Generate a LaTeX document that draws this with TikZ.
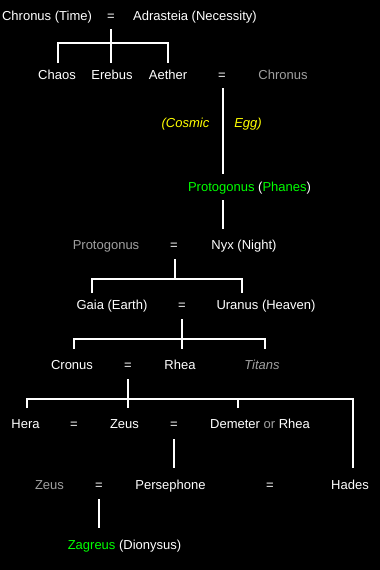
\documentclass[tikz,border=0pt]{standalone}
\usepackage{fontspec}
\setmainfont{Liberation Sans}
\definecolor{dimgray}{HTML}{A0A0A0}
\definecolor{eggyellow}{HTML}{FFFF00}
\definecolor{brightgreen}{HTML}{00FF00}
\newcommand{\diagfont}{\fontsize{13}{15}\selectfont}
\begin{document}
\begin{tikzpicture}[x=1pt,y=-1pt,
  lbl/.style={anchor=base,inner sep=0pt,text=white,font=\diagfont},
  dim/.style={lbl,text=dimgray},
  egg/.style={lbl,text=eggyellow,font=\diagfont\itshape},
  grn/.style={lbl,text=brightgreen},
  conn/.style={draw=white,line width=2pt,line join=miter}]
\fill[black] (0,0) rectangle (380,570);
\useasboundingbox (0,0) rectangle (380,570);
% row 1
\node[lbl] (chronus1) at (47,20.5) {Chronus (Time)};
\node[lbl] (eq1) at (111,20.5) {=};
\node[lbl] (adrasteia) at (195,20.5) {Adrasteia (Necessity)};
% row 2
\node[lbl] (chaos) at (57,79.5) {Chaos};
\node[lbl] (erebus) at (112,79.5) {Erebus};
\node[lbl] (aether) at (168,79.5) {Aether};
\node[lbl] (eq2) at (222,79.5) {=};
\node[dim] (chronus2) at (283,79.5) {Chronus};
% egg
\node[egg] (cosmic) at (185.5,127.5) {(Cosmic};
\node[egg] (egg) at (248,127.5) {Egg)};
% protogonus phanes
\node[grn] (phanes) at (249.5,191.5) {Protogonus \textcolor{white}{(}Phanes\textcolor{white}{)}};
% row nyx
\node[dim] (proto2) at (106,249.5) {Protogonus};
\node[lbl] (eq3) at (174,249.5) {=};
\node[lbl] (nyx) at (244,249.5) {Nyx (Night)};
% row gaia
\node[lbl] (gaia) at (112,309.5) {Gaia (Earth)};
\node[lbl] (eq4) at (182,309.5) {=};
\node[lbl] (uranus) at (266,309.5) {Uranus (Heaven)};
% row cronus
\node[lbl] (cronus) at (72,369.5) {Cronus};
\node[lbl] (eq5) at (128,369.5) {=};
\node[lbl] (rhea) at (180,369.5) {Rhea};
\node[dim,font=\diagfont\itshape] (titans) at (262,369.5) {Titans};
% row hera
\node[lbl] (hera) at (25.5,428.5) {Hera};
\node[lbl] (eq6) at (74,428.5) {=};
\node[lbl] (zeus) at (124.5,428.5) {Zeus};
\node[lbl] (eq7) at (174,428.5) {=};
\node[lbl] (demeter) at (260,428.5) {Demeter \textcolor{dimgray}{or} Rhea};
% row persephone
\node[dim] (zeus2) at (49.5,489.5) {Zeus};
\node[lbl] (eq8) at (99,489.5) {=};
\node[lbl] (persephone) at (170.5,489.5) {Persephone};
\node[lbl] (eq9) at (270,489.5) {=};
\node[lbl] (hades) at (350,489.5) {Hades};
% zagreus
\node[grn] (zagreus) at (124.5,549.5) {Zagreus \textcolor{white}{(Dionysus)}};
% connector points
\coordinate (s1) at (111,29);
\coordinate (j1) at (111,43);
\coordinate (k1a) at (58,63);
\coordinate (k1b) at (111,63);
\coordinate (k1c) at (168,63);
\coordinate (s2) at (223,88);
\coordinate (e2) at (223,174);
\coordinate (s3) at (223,200);
\coordinate (e3) at (223,229);
\coordinate (s4) at (175,259);
\coordinate (j4) at (175,279);
\coordinate (k4a) at (92,293);
\coordinate (k4b) at (242,293);
\coordinate (s5) at (182,319);
\coordinate (j5) at (182,339);
\coordinate (k5a) at (74,349);
\coordinate (k5b) at (182,349);
\coordinate (k5c) at (265,349);
\coordinate (s6) at (128,379);
\coordinate (j6) at (128,399);
\coordinate (k6a) at (27,408);
\coordinate (k6b) at (128,408);
\coordinate (k6c) at (238,408);
\coordinate (k6d) at (353,468);
\coordinate (s7) at (174,439);
\coordinate (e7) at (174,468);
\coordinate (s8) at (99,499);
\coordinate (e8) at (99,528);
% connectors
\draw[conn] (s1) -- (k1b);
\draw[conn] (k1a) |- (j1) -| (k1c);
\draw[conn] (s2) -- (e2);
\draw[conn] (s3) -- (e3);
\draw[conn] (s4) -- (j4);
\draw[conn] (k4a) |- (j4) -| (k4b);
\draw[conn] (s5) -- (k5b);
\draw[conn] (k5a) |- (j5) -| (k5c);
\draw[conn] (s6) -- (k6b);
\draw[conn] (k6a) |- (j6) -| (k6d);
\draw[conn] (k6c) -- (k6c |- j6);
\draw[conn] (s7) -- (e7);
\draw[conn] (s8) -- (e8);
\end{tikzpicture}
\end{document}
